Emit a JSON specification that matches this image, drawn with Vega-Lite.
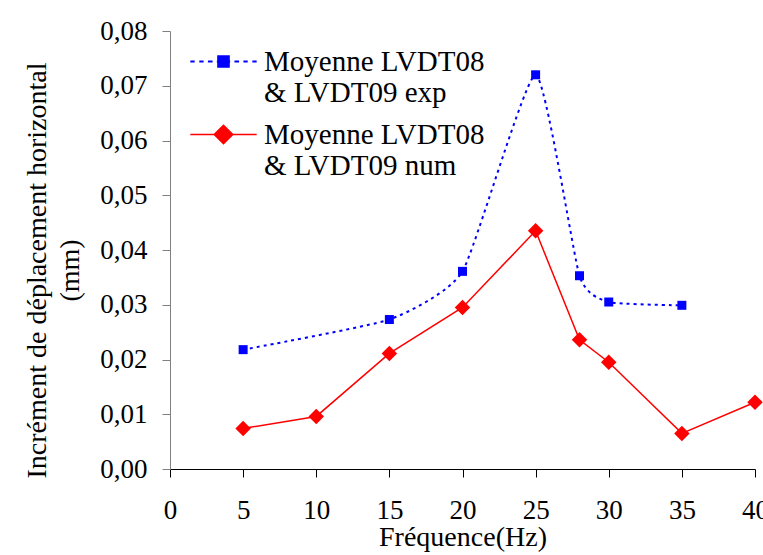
{
  "$schema": "https://vega.github.io/schema/vega-lite/v6.json",
  "width": 585,
  "height": 438,
  "autosize": {"type": "none"},
  "padding": {"left": 170, "top": 31, "right": 8, "bottom": 86},
  "background": "white",
  "config": {
    "view": {"stroke": null},
    "font": "Liberation Serif, Times New Roman, DejaVu Serif, serif",
    "axis": {"labelFont": "Liberation Serif, Times New Roman, DejaVu Serif, serif", "titleFont": "Liberation Serif, Times New Roman, DejaVu Serif, serif"},
    "legend": {"labelFont": "Liberation Serif, Times New Roman, DejaVu Serif, serif"},
    "locale": {"number": {"decimal": ",", "thousands": " ", "grouping": [3], "currency": ["", " €"]}}
  },
  "data": {
    "values": [
      {"f": 5, "v": 0.0218, "s": "exp"},
      {"f": 15, "v": 0.0273, "s": "exp"},
      {"f": 20, "v": 0.0361, "s": "exp"},
      {"f": 25, "v": 0.0720, "s": "exp"},
      {"f": 28, "v": 0.0353, "s": "exp"},
      {"f": 30, "v": 0.0305, "s": "exp"},
      {"f": 35, "v": 0.0299, "s": "exp"},
      {"f": 5, "v": 0.0074, "s": "num"},
      {"f": 10, "v": 0.0096, "s": "num"},
      {"f": 15, "v": 0.0211, "s": "num"},
      {"f": 20, "v": 0.0295, "s": "num"},
      {"f": 25, "v": 0.0435, "s": "num"},
      {"f": 28, "v": 0.0236, "s": "num"},
      {"f": 30, "v": 0.0195, "s": "num"},
      {"f": 35, "v": 0.0065, "s": "num"},
      {"f": 40, "v": 0.0122, "s": "num"}
    ]
  },
  "encoding": {
    "x": {
      "field": "f", "type": "quantitative",
      "scale": {"domain": [0, 40], "nice": false, "zero": false},
      "axis": {
        "values": [0, 5, 10, 15, 20, 25, 30, 35, 40],
        "title": "Fréquence(Hz)", "grid": false,
        "domainColor": "black", "tickColor": "black", "tickSize": 8,
        "labelFontSize": 27, "labelColor": "black", "labelPadding": 20, "labelFlush": false,
        "titleFontSize": 28, "titleFontWeight": "normal", "titleColor": "black", "titlePadding": 0
      }
    },
    "y": {
      "field": "v", "type": "quantitative",
      "scale": {"domain": [0, 0.08], "nice": false},
      "axis": {
        "values": [0, 0.01, 0.02, 0.03, 0.04, 0.05, 0.06, 0.07, 0.08],
        "format": ".2f",
        "title": ["Incrément de déplacement horizontal", "(mm)"],
        "grid": false,
        "domainColor": "#808080", "tickColor": "#808080", "tickSize": 8,
        "labelFontSize": 27, "labelColor": "black", "labelPadding": 15, "labelFlush": false,
        "titleFontSize": 28, "titleFontWeight": "normal", "titleColor": "black", "titlePadding": 15, "titleLineHeight": 33,
        "titleY": 239
      }
    },
    "color": {
      "field": "s", "type": "nominal",
      "scale": {"domain": ["exp", "num"], "range": ["#0000FF", "#FF0000"]},
      "legend": {
        "title": null,
        "orient": "none", "legendX": 39, "legendY": 16,
        "symbolSize": 4400,
        "labelFontSize": 29, "labelColor": "black", "labelOffset": 26, "labelLimit": 400,
        "labelExpr": "['Moyenne LVDT08', '& LVDT09 ' + datum.label]",
        "rowPadding": 12,
        "encode": {
          "labels": {"update": {"lineHeight": {"value": 31}}},
          "symbols": {
            "update": {
              "shape": {"signal": "datum.value === 'exp' ? 'M-1,0H-0.87M-0.73,0H-0.6M-0.47,0H-0.33M-0.2,0H0.2M0.33,0H0.47M0.6,0H0.73M0.87,0H1M-0.16,-0.16H0.16V0.16H-0.16Z' : 'M-1,0H1M0,-0.28L0.28,0L0,0.28L-0.28,0Z'"},
              "fill": {"signal": "datum.value === 'exp' ? '#0000FF' : '#FF0000'"},
              "stroke": {"signal": "datum.value === 'exp' ? '#0000FF' : '#FF0000'"},
              "strokeWidth": {"signal": "datum.value === 'exp' ? 2 : 1.5"},
              "fillOpacity": {"value": 1},
              "opacity": {"value": 1}
            }
          }
        }
      }
    }
  },
  "layer": [
    {
      "transform": [{"filter": "datum.s === 'exp'"}],
      "mark": {"type": "line", "interpolate": "cardinal", "tension": 0.5, "strokeDash": [3, 4], "strokeWidth": 2}
    },
    {
      "transform": [{"filter": "datum.s === 'num'"}],
      "mark": {"type": "line", "strokeWidth": 1.5}
    },
    {
      "transform": [{"filter": "datum.s === 'exp'"}],
      "mark": {"type": "point", "shape": "square", "filled": true, "size": 81, "opacity": 1}
    },
    {
      "transform": [{"filter": "datum.s === 'num'"}],
      "mark": {"type": "point", "shape": "diamond", "filled": true, "size": 240, "opacity": 1}
    }
  ]
}
